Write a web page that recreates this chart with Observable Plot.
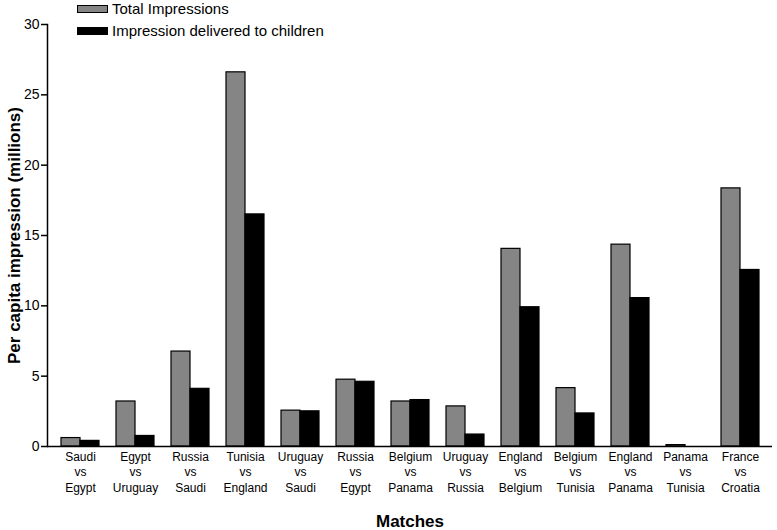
<!DOCTYPE html>
<html>
<head>
<meta charset="utf-8">
<script src="https://cdn.jsdelivr.net/npm/d3@7"></script>
<script src="https://cdn.jsdelivr.net/npm/@observablehq/plot@0.6"></script>
<style>
  html, body { margin: 0; padding: 0; background: #fff; }
  #wrap { position: relative; width: 777px; height: 530px; font-family: "Liberation Sans", Arial, sans-serif; }
  #legend { position: absolute; left: 77px; top: 0; font-size: 15px; color: #000; }
  .item { position: absolute; white-space: nowrap; display: flex; align-items: center; line-height: 15px; }
  .sw { width: 29px; height: 6px; border: 1px solid #000; margin-right: 4px; }
</style>
</head>
<body>
<div id="wrap">
  <div id="chart"></div>
  <div id="legend"></div>
</div>
<script>
const matches = [
  "Saudi vs Egypt", "Egypt vs Uruguay", "Russia vs Saudi", "Tunisia vs England",
  "Uruguay vs Saudi", "Russia vs Egypt", "Belgium vs Panama", "Uruguay vs Russia",
  "England vs Belgium", "Belgium vs Tunisia", "England vs Panama", "Panama vs Tunisia",
  "France vs Croatia"
];
const totalImpressions = [0.6, 3.2, 6.75, 26.6, 2.55, 4.75, 3.2, 2.85, 14.05, 4.15, 14.35, 0.1, 18.35];
const childImpressions = [0.4, 0.75, 4.1, 16.5, 2.5, 4.6, 3.3, 0.85, 9.9, 2.35, 10.55, 0, 12.55];
const yTicks = [0, 5, 10, 15, 20, 25, 30];
const seriesNames = ["Total Impressions", "Impression delivered to children"];
const seriesColors = ["#858585", "#000000"];

const data = matches.map((m, i) => ({match: m, total: totalImpressions[i], child: childImpressions[i]}));

const chart = Plot.plot({
  width: 777,
  height: 530,
  marginLeft: 47,
  marginRight: 5,
  marginTop: 24,
  marginBottom: 84,
  style: {fontFamily: "'Liberation Sans', Arial, sans-serif", color: "#000", background: "#fff"},
  x: {type: "band", domain: matches, paddingInner: 0.315, paddingOuter: 0.19},
  y: {domain: [0, 30]},
  marks: [
    Plot.barY(data, {x: "match", y: "total", fill: seriesColors[0], stroke: "#000", strokeWidth: 1.2, insetRight: 19}),
    Plot.barY(data, {x: "match", y: "child", fill: seriesColors[1], stroke: "#000", strokeWidth: 1.2, insetLeft: 19}),
    Plot.ruleY([0], {stroke: "#000", strokeWidth: 1.5}),
    Plot.frame({anchor: "left", stroke: "#000", strokeWidth: 1.5}),
    Plot.axisY({ticks: yTicks, tickSize: 6, tickPadding: 2, fontSize: 14, label: null, strokeWidth: 1.5}),
    Plot.axisX({tickSize: 0, tickPadding: 3, fontSize: 12, lineHeight: 1.3, label: null,
      tickFormat: d => d.replace(" vs ", "\nvs\n")}),
    Plot.text(["Per capita impression (millions)"], {frameAnchor: "left", rotate: -90, dx: -33, textAnchor: "middle", lineAnchor: "middle", fontSize: 17, fontWeight: "bold"}),
    Plot.text(["Matches"], {frameAnchor: "bottom", dy: 75, fontSize: 17, fontWeight: "bold", lineAnchor: "middle"})
  ]
});
document.getElementById("chart").appendChild(chart);

const legend = document.getElementById("legend");
seriesNames.forEach((name, i) => {
  const it = document.createElement("div");
  it.className = "item";
  it.style.top = (i === 0 ? 1 : 23) + "px";
  const sw = document.createElement("div");
  sw.className = "sw";
  sw.style.background = seriesColors[i];
  const tx = document.createElement("span");
  tx.textContent = name;
  it.appendChild(sw);
  it.appendChild(tx);
  legend.appendChild(it);
});
</script>
</body>
</html>
